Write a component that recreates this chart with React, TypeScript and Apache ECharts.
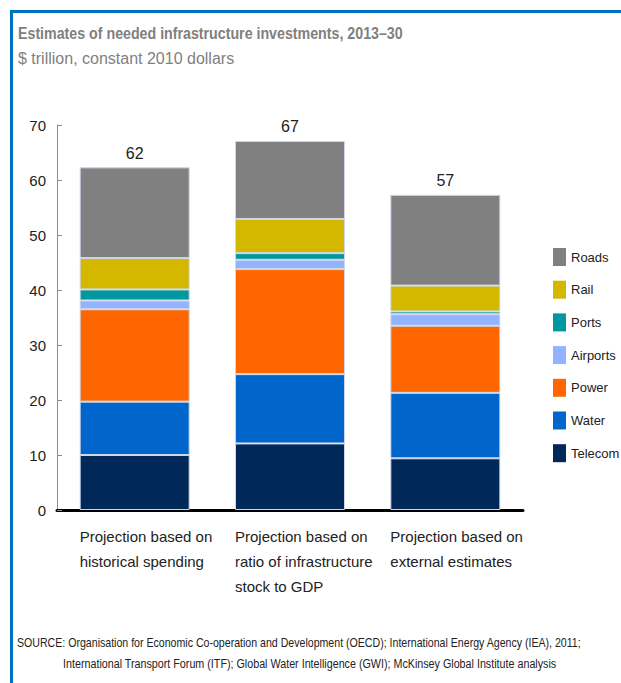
import React, { useEffect, useRef } from "react";
import * as echarts from "echarts";

const categories: string[] = [
  "Projection based on\nhistorical spending",
  "Projection based on\nratio of infrastructure\nstock to GDP",
  "Projection based on\nexternal estimates",
];
const seriesNames: string[] = ["Telecom", "Water", "Power", "Airports", "Ports", "Rail", "Roads"];
const telecom: number[] = [10.0, 12.1, 9.4];
const water: number[] = [9.7, 12.6, 11.9];
const power: number[] = [16.8, 19.1, 12.2];
const airports: number[] = [1.6, 1.7, 2.1];
const ports: number[] = [2.0, 1.2, 0.5];
const rail: number[] = [5.7, 6.2, 4.7];
const roads: number[] = [16.5, 14.2, 16.5];
const totals: number[] = [62, 67, 57];
const colors: string[] = ["#002858", "#0066cc", "#ff6600", "#94b3ff", "#00979e", "#d4b800", "#808080"];
const legendOrder: string[] = ["Roads", "Rail", "Ports", "Airports", "Power", "Water", "Telecom"];

const titleText = "Estimates of needed infrastructure investments, 2013\u201330";
const subtitleText = "$ trillion, constant 2010 dollars";
const sourceLine1 =
  "SOURCE: Organisation for Economic Co-operation and Development (OECD); International Energy Agency (IEA), 2011;";
const sourceLine2 =
  "International Transport Forum (ITF); Global Water Intelligence (GWI); McKinsey Global Institute analysis";

const FONT = '"Liberation Sans", Arial, sans-serif';

function measure(text: string, font: string): number {
  const c = document.createElement("canvas");
  const ctx = c.getContext("2d");
  if (!ctx) return 1;
  ctx.font = font;
  return ctx.measureText(text).width || 1;
}

function squeezedText(text: string, x: number, y: number, targetWidth: number, size: number, weight: string, fill: string) {
  const w = measure(text, `${weight} ${size}px "Liberation Sans"`);
  return {
    type: "text",
    x,
    y,
    scaleX: Math.min(1, targetWidth / w),
    style: {
      text,
      fontSize: size,
      fontWeight: weight,
      fill,
      fontFamily: FONT,
      align: "left",
      verticalAlign: "middle",
    },
  };
}

export default function App() {
  const ref = useRef<HTMLDivElement>(null);
  useEffect(() => {
    if (!ref.current) return;
    const chart = echarts.init(ref.current, undefined, { renderer: "svg" });
    const values = [telecom, water, power, airports, ports, rail, roads];
    const series: any[] = seriesNames.map((name, i) => ({
      name,
      type: "bar",
      stack: "total",
      barWidth: 110,
      data: values[i],
      itemStyle: { color: colors[i], borderColor: "#cdd7e8", borderWidth: 1 },
      label:
        i === seriesNames.length - 1
          ? {
              show: true,
              position: "top",
              distance: 6,
              formatter: (p: any) => String(totals[p.dataIndex]),
              fontSize: 16,
              color: "#222",
              fontFamily: FONT,
            }
          : { show: false },
    }));
    chart.setOption({
      animation: false,
      backgroundColor: "#ffffff",
      textStyle: { fontFamily: FONT },
      grid: { left: 57, right: 98, top: 125, bottom: 173, containLabel: false },
      legend: {
        data: legendOrder,
        orient: "vertical",
        left: 548,
        top: 243,
        itemWidth: 13,
        itemHeight: 18,
        itemGap: 14.7,
        icon: "rect",
        itemStyle: { borderWidth: 0 },
        textStyle: { fontSize: 13, color: "#222", fontFamily: FONT },
      },
      xAxis: {
        type: "category",
        data: categories,
        axisLine: { lineStyle: { color: "#000", width: 3 } },
        axisTick: { show: false },
        axisLabel: {
          interval: 0,
          margin: 14,
          color: "#222",
          fontSize: 15,
          fontFamily: FONT,
          align: "center",
          formatter: (v: string) =>
            v
              .split("\n")
              .map((l) => `{a|${l}}`)
              .join("\n"),
          rich: {
            a: { width: 110, align: "left", lineHeight: 25, fontSize: 15, color: "#222", fontFamily: FONT },
          },
        },
      },
      yAxis: {
        type: "value",
        min: 0,
        max: 70,
        interval: 10,
        axisLine: { show: true, lineStyle: { color: "#8c8c8c", width: 1 } },
        axisTick: { show: true, inside: true, length: 5, lineStyle: { color: "#8c8c8c" } },
        splitLine: { show: false },
        axisLabel: { margin: 11, color: "#222", fontSize: 15, fontFamily: FONT },
      },
      series,
      graphic: [
        { type: "line", shape: { x1: 10, y1: 11.5, x2: 621, y2: 11.5 }, style: { stroke: "#0070c0", lineWidth: 3 } },
        { type: "line", shape: { x1: 11.5, y1: 10, x2: 11.5, y2: 683 }, style: { stroke: "#0070c0", lineWidth: 3 } },
        squeezedText(titleText, 18, 33, 385, 17, "bold", "#7f7f7f"),
        squeezedText(subtitleText, 18, 58, 219, 16, "normal", "#7f7f7f"),
        squeezedText(sourceLine1, 17, 643, 565, 12.5, "normal", "#222"),
        squeezedText(sourceLine2, 63, 663, 494, 12.5, "normal", "#222"),
      ],
    });
    return () => chart.dispose();
  }, []);
  return (
    <div
      ref={ref}
      style={{ position: "absolute", left: 0, top: 0, width: 621, height: 683 }}
    />
  );
}
